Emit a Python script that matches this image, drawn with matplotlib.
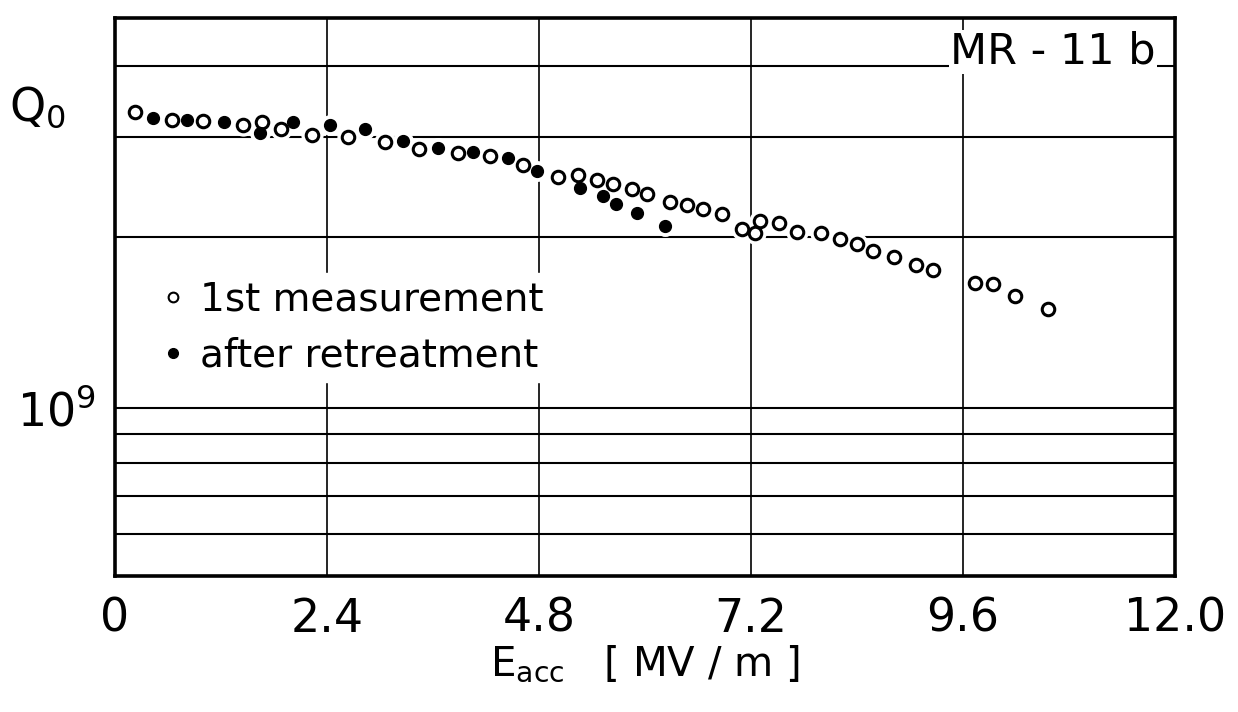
import matplotlib
matplotlib.use("Agg")
import matplotlib.pyplot as plt
from matplotlib.lines import Line2D
from matplotlib.ticker import FixedLocator, LogLocator, NullFormatter

# 1st measurement (open circles)
e_first = [0.23, 0.64, 1.0, 1.45, 1.67, 1.88, 2.23, 2.64, 3.06, 3.44, 3.88, 4.25, 4.62,
           5.02, 5.24, 5.46, 5.64, 5.85, 6.02, 6.28, 6.48, 6.66, 6.87, 7.10, 7.25, 7.30,
           7.52, 7.72, 8.0, 8.21, 8.40, 8.58, 8.82, 9.07, 9.26, 9.74, 9.94, 10.19, 10.57]
q_first = [3.32, 3.21, 3.20, 3.15, 3.19, 3.09, 3.02, 3.00, 2.94, 2.86, 2.81, 2.77, 2.68,
           2.55, 2.57, 2.52, 2.48, 2.43, 2.38, 2.30, 2.27, 2.24, 2.19, 2.06, 2.03, 2.13,
           2.11, 2.04, 2.03, 1.98, 1.94, 1.89, 1.84, 1.78, 1.75, 1.66, 1.65, 1.57, 1.49]

# after retreatment (filled circles)
e_retreat = [0.43, 0.82, 1.23, 1.64, 2.02, 2.43, 2.83, 3.26, 3.66, 4.05, 4.45, 4.78,
             5.26, 5.53, 5.67, 5.91, 6.23]
q_retreat = [3.24, 3.21, 3.18, 3.05, 3.18, 3.15, 3.09, 2.95, 2.87, 2.82, 2.75, 2.61,
             2.44, 2.36, 2.28, 2.20, 2.09]

x_ticks = [0, 2.4, 4.8, 7.2, 9.6, 12.0]
x_labels = ["0", "2.4", "4.8", "7.2", "9.6", "12.0"]

q_first = [q * 1e9 for q in q_first]
q_retreat = [q * 1e9 for q in q_retreat]

plt.rcParams['font.family'] = ['DejaVu Sans']
plt.rcParams['mathtext.fontset'] = 'dejavusans'

fig = plt.figure(figsize=(12.38, 7.12), dpi=100)
fig.patch.set_facecolor('white')
ax = fig.add_axes([0.0929, 0.191, 0.856, 0.784])

ax.set_yscale('log')
ax.set_xlim(0, 12.0)
ax.set_ylim(5.05e8, 4.86e9)

ax.set_xticks(x_ticks)
ax.set_xticklabels(x_labels, fontsize=33)
ax.yaxis.set_major_locator(FixedLocator([1e9]))
ax.set_yticklabels([r"$\mathregular{10^9}$"], fontsize=33)
ax.yaxis.set_minor_locator(LogLocator(base=10, subs=[2, 3, 4, 5, 6, 7, 8, 9]))
ax.yaxis.set_minor_formatter(NullFormatter())
ax.tick_params(which='both', length=0)
ax.tick_params(axis='x', pad=15)
ax.tick_params(axis='y', pad=14)

ax.grid(True, axis='y', which='both', color='black', lw=1.5, zorder=1)
ax.grid(True, axis='x', which='major', color='black', lw=1.2, zorder=1)
ax.set_axisbelow(True)
for s in ax.spines.values():
    s.set_linewidth(2.6)
    s.set_zorder(6)

# white halos break the grid lines behind the points
ax.plot(e_first, q_first, 'o', ms=15, color='white', zorder=2)
ax.plot(e_retreat, q_retreat, 'o', ms=14, color='white', zorder=2)
ax.plot(e_first, q_first, 'o', ms=9, mfc='white', mec='black', mew=2.2, zorder=3)
ax.plot(e_retreat, q_retreat, 'o', ms=8.5, color='black', zorder=4)

handles = [Line2D([], [], marker='o', ls='none', ms=7, mfc='white', mec='black', mew=1.5),
           Line2D([], [], marker='o', ls='none', ms=7, color='black')]
leg = ax.legend(handles, ["1st measurement", "after retreatment"], loc='upper left',
                bbox_to_anchor=(0.036, 0.543), fontsize=28, frameon=True,
                framealpha=1, handlelength=0.6, handletextpad=0.4, labelspacing=0.45,
                borderpad=0.2, borderaxespad=0, fancybox=False)
leg.get_frame().set_facecolor('white')
leg.get_frame().set_edgecolor('white')
leg.set_zorder(5)

ax.text(0.885, 0.939, "MR - 11 b", transform=ax.transAxes, fontsize=31,
        ha='center', va='center', zorder=5,
        bbox=dict(facecolor='white', edgecolor='none', pad=1))

ax.text(-0.073, 0.839, r"$\mathregular{Q_0}$", transform=ax.transAxes, fontsize=33,
        ha='center', va='center')

ax.set_xlabel(r"$\mathregular{E_{acc}}$   [ MV / m ]", fontsize=29, labelpad=1)

fig.savefig("out.png", dpi=100)
